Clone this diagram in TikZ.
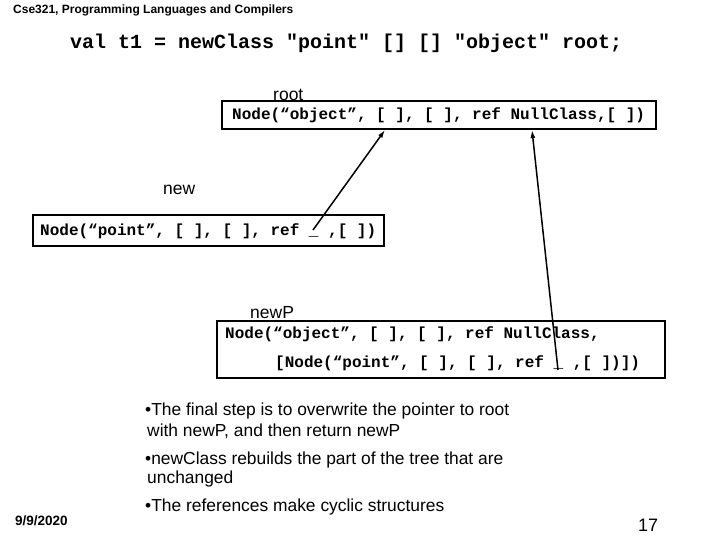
\documentclass[tikz,border=0pt]{standalone}
\usepackage{fontspec}
\setmainfont{Liberation Sans}
\setmonofont{Liberation Mono}
\usetikzlibrary{arrows.meta}
\tikzset{
  code/.style={font=\ttfamily\bfseries\fontsize{16}{18}\selectfont, anchor=west, inner sep=0pt},
  lbl/.style={font=\fontsize{17.5}{19}\selectfont, anchor=west, inner sep=0pt},
  bul/.style={font=\fontsize{17.4}{20}\selectfont, anchor=west, inner sep=0pt},
  boxline/.style={line width=2pt},
  ptr/.style={line width=1.5pt, -{Latex[length=8pt,width=5pt]}},
}
\begin{document}
\begin{tikzpicture}[x=1pt,y=-1pt]
\useasboundingbox (0,0) rectangle (720,540);
\node[anchor=west, inner sep=0pt, font=\bfseries\fontsize{12}{14}\selectfont] (hdr) at (13,10) {Cse321, Programming Languages and Compilers};
\node[anchor=west, inner sep=0pt, font=\ttfamily\bfseries\fontsize{20}{22}\selectfont] (title) at (70,43) {val t1 = newClass "point" [] [] "object" root;};
% box 1
\draw[boxline] (222,101) rectangle (656,129);
\node[lbl] (lroot) at (273,95) {root};
\node[code] (b1) at (232,115) {Node(“object”, [ ], [ ], ref NullClass,[ ])};
% box 2
\draw[boxline] (33,215) rectangle (384,246);
\node[lbl] (lnew) at (163,190) {new};
\node[code] (b2) at (40,231) {Node(“point”, [ ], [ ], ref \_ ,[ ])};
% box 3
\draw[boxline] (217,321) rectangle (665,378);
\node[lbl] (lnewp) at (250,313) {newP};
\node[code] (b3a) at (225,334) {Node(“object”, [ ], [ ], ref NullClass,};
\node[code] (b3b) at (275,363) {[Node(“point”, [ ], [ ], ref \_ ,[ ])])};
% pointers
\coordinate (s1) at (313,230);
\coordinate (t1) at (385,130);
\coordinate (s2) at (558,370);
\coordinate (t2) at (532,130);
\draw[ptr] (s1) -- (t1);
\draw[ptr] (s2) -- (t2);
% bullets
\node[bul] (p1) at (145,411) {\textbullet The final step is to overwrite the pointer to root};
\node[bul] (p1b) at (147,431) {with newP, and then return newP};
\node[bul] (p2) at (145,460) {\textbullet newClass rebuilds the part of the tree that are};
\node[bul] (p2b) at (147,479) {unchanged};
\node[bul] (p3) at (145,507) {\textbullet The references make cyclic structures};
\node[anchor=west, inner sep=0pt, font=\bfseries\fontsize{13.5}{15}\selectfont] (date) at (15,521) {9/9/2020};
\node[anchor=west, inner sep=0pt, font=\fontsize{18}{20}\selectfont] (pg) at (638,525) {17};
\end{tikzpicture}
\end{document}
